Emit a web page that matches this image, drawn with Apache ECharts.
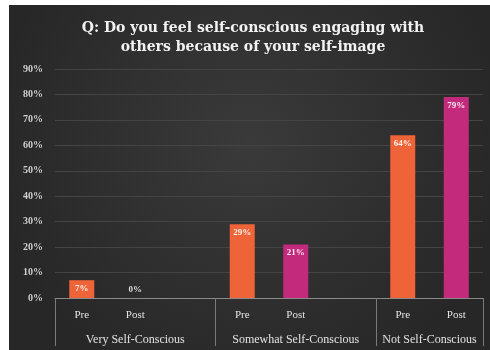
<!DOCTYPE html>
<html>
<head>
<meta charset="utf-8">
<script src="https://cdn.jsdelivr.net/npm/echarts@6/dist/echarts.min.js"></script>
<style>
  html, body { margin: 0; padding: 0; background: #fff; }
  #chart { width: 490px; height: 350px; }
</style>
</head>
<body>
<div id="chart"></div>
<script>
// Survey answers, percent of respondents before and after the programme
const groups = ['Very Self-Conscious', 'Somewhat Self-Conscious', 'Not Self-Conscious'];
const phases = ['Pre', 'Post'];
const preValues = [7, 29, 64];
const postValues = [0, 21, 79];
const yMax = 90;
const yStep = 10;

// One slot per phase, plus an empty spacer slot after every group but the last
const slots = [];
groups.forEach(function (g, gi) {
  phases.forEach(function (p) { slots.push(g + '|' + p); });
  if (gi < groups.length - 1) slots.push(g + '|');
});

const preData = slots.map(function (s) {
  const parts = s.split('|');
  return parts[1] === 'Pre' ? preValues[groups.indexOf(parts[0])] : '-';
});
const postData = slots.map(function (s) {
  const parts = s.split('|');
  if (parts[1] !== 'Post') return '-';
  const v = postValues[groups.indexOf(parts[0])];
  // a zero bar has no inside, so its label sits above the baseline
  return v === 0 ? { value: v, label: { position: 'top', color: '#d8d8d8', distance: 4 } } : v;
});

// Group spans along the slot axis: boundaries and centres
const bounds = [0];
const centres = [];
let pos = 0;
groups.forEach(function (g, gi) {
  const span = phases.length + (gi < groups.length - 1 ? 1 : 0);
  centres.push(pos + span / 2);
  pos += span;
  bounds.push(pos);
});

const serif = '"Liberation Serif", "DejaVu Serif", serif';

const chart = echarts.init(document.getElementById('chart'));
chart.setOption({
  backgroundColor: '#ffffff',
  animation: false,
  graphic: [{
    type: 'rect',
    left: 9, top: 5, z: -10,
    shape: { width: 481, height: 345 },
    style: {
      fill: new echarts.graphic.RadialGradient(0.5, 0.4, 0.75, [
        { offset: 0, color: '#3a3a3a' },
        { offset: 1, color: '#272727' }
      ])
    }
  }],
  title: {
    text: 'Q: Do you feel self-conscious engaging with\nothers because of your self-image',
    left: 253,
    textAlign: 'center',
    top: 19,
    padding: 0,
    textStyle: {
      fontFamily: '"DejaVu Serif", serif',
      fontWeight: 'bold',
      fontSize: 14,
      lineHeight: 19,
      color: '#f2f2f2',
      align: 'center'
    }
  },
  grid: { left: 55, right: 7, top: 69, bottom: 52, containLabel: false },
  xAxis: [{
    type: 'category',
    data: slots,
    axisLine: { show: true, lineStyle: { color: '#8a8a8a', width: 1 } },
    axisTick: { show: false },
    axisLabel: {
      interval: 0,
      margin: 12,
      color: '#e2e2e2',
      fontFamily: serif,
      fontSize: 11,
      formatter: function (v) { return v.split('|')[1]; }
    }
  }, {
    type: 'value',
    position: 'bottom',
    min: 0,
    max: slots.length,
    splitLine: { show: false },
    axisLine: { show: false },
    axisTick: {
      show: true,
      customValues: bounds,
      length: 48,
      lineStyle: { color: '#7a7a7a', width: 1 }
    },
    axisLabel: {
      customValues: centres,
      margin: 36,
      color: '#e2e2e2',
      fontFamily: serif,
      fontSize: 12,
      formatter: function (v) {
        const i = centres.indexOf(v);
        return i >= 0 ? groups[i] : '';
      }
    }
  }],
  yAxis: {
    type: 'value',
    min: 0,
    max: yMax,
    interval: yStep,
    axisLine: { show: false },
    axisTick: { show: false },
    splitLine: { lineStyle: { color: '#444444', width: 1 } },
    axisLabel: {
      margin: 12,
      color: '#d0d0d0',
      fontFamily: serif,
      fontWeight: 'bold',
      fontSize: 10,
      formatter: '{value}%'
    }
  },
  series: [{
    name: 'Pre',
    type: 'bar',
    xAxisIndex: 0,
    data: preData,
    barWidth: 25,
    barGap: '-100%',
    itemStyle: { color: '#ee6338' },
    label: {
      show: true,
      position: 'insideTop',
      distance: 4,
      color: '#fff0e8',
      fontFamily: serif,
      fontWeight: 'bold',
      fontSize: 9,
      formatter: '{c}%'
    }
  }, {
    name: 'Post',
    type: 'bar',
    xAxisIndex: 0,
    data: postData,
    barWidth: 25,
    barGap: '-100%',
    itemStyle: { color: '#c42a7c' },
    label: {
      show: true,
      position: 'insideTop',
      distance: 4,
      color: '#fbe6f2',
      fontFamily: serif,
      fontWeight: 'bold',
      fontSize: 9,
      formatter: '{c}%'
    }
  }]
});
</script>
</body>
</html>
